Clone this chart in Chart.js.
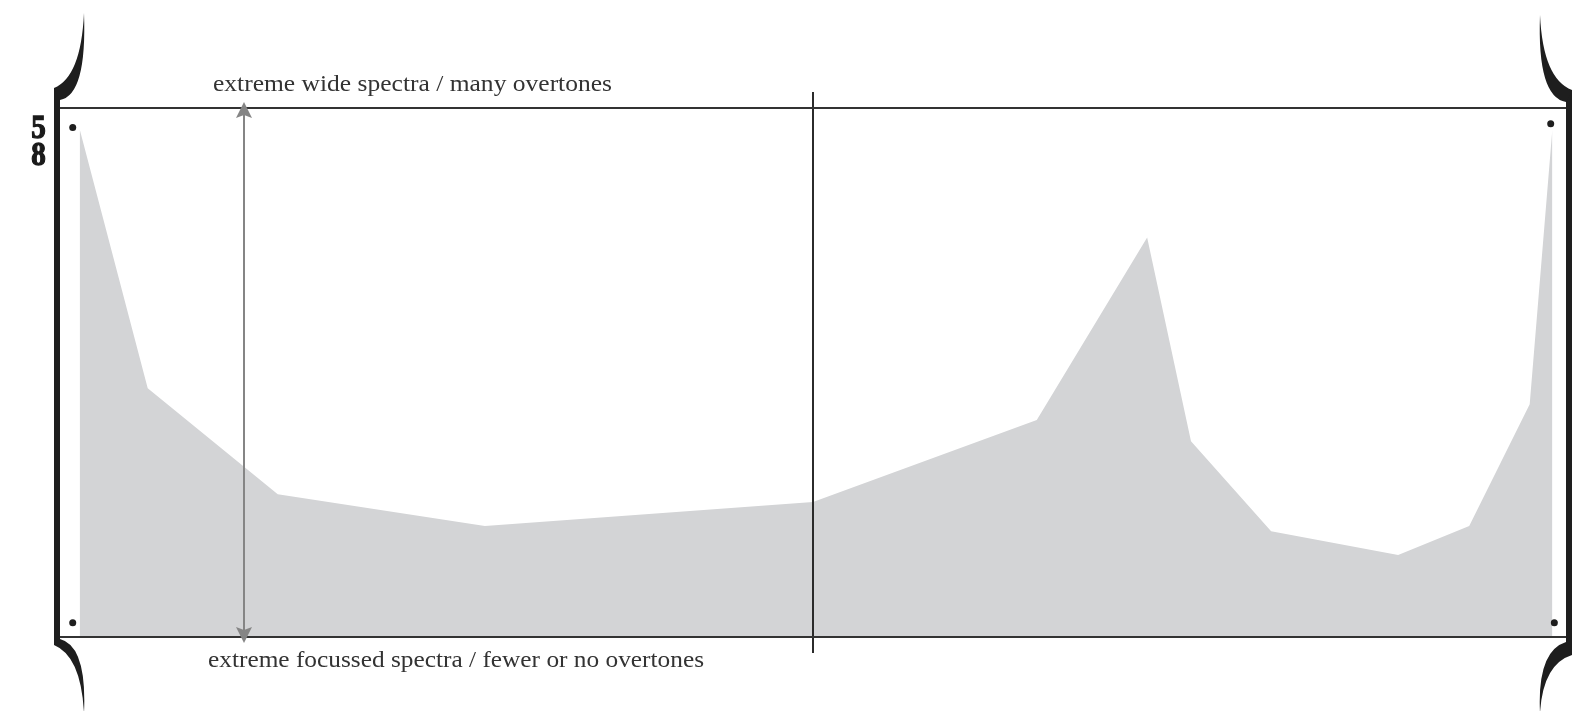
<!DOCTYPE html>
<html>
<head>
<meta charset="utf-8">
<script src="https://cdn.jsdelivr.net/npm/chart.js@4.4.1/dist/chart.umd.min.js"></script>
<style>
  html,body{margin:0;padding:0;background:#fff}
  #wrap{width:1591px;height:711px;position:relative}
</style>
</head>
<body>
<div id="wrap"><canvas id="c"></canvas></div>
<script>
  // spectrum width along the piece (x = position 0..100, y = width 0..100)
  const POS=[1.5,6,14.6,28.3,50,64.8,72.1,75,80.3,88.7,93.4,97.4,98.9];
  const LEVEL=[96,47,27,21,25.5,41,75.5,37,20,15.5,21,44,96];
  // small corner marks
  const DOT_X=[1.04,1.04,98.79,99.03];
  const DOT_Y=[96.3,2.7,97,2.7];
  const MID_X=50;      // section divider
  const ARROW_X=12.4;  // range arrow
  const TOP_LABEL="extreme wide spectra / many overtones";
  const BOTTOM_LABEL="extreme focussed spectra / fewer or no overtones";
  const METER=["5","8"];

  const INK="#2b2b2b";

  function fitText(ctx,txt,x,y,w,font){
    ctx.font=font;
    const m=ctx.measureText(txt).width;
    ctx.save();ctx.translate(x,y);ctx.scale(w/m,1);ctx.fillText(txt,0,0);ctx.restore();
  }

  // one curly horn of the bracket
  function horn(ctx,o,i,tip,cOut,cIn){
    ctx.beginPath();
    ctx.moveTo(o[0],o[1]);
    ctx.quadraticCurveTo(cOut[0],cOut[1],tip[0],tip[1]);
    ctx.quadraticCurveTo(cIn[0],cIn[1],i[0],i[1]);
    ctx.closePath();ctx.fill();
  }

  function arrowHead(ctx,x,tipY,dir){
    ctx.beginPath();
    ctx.moveTo(x,tipY);
    ctx.lineTo(x-8,tipY+dir*16);
    ctx.lineTo(x,tipY+dir*13);
    ctx.lineTo(x+8,tipY+dir*16);
    ctx.closePath();ctx.fill();
  }

  const decor={
    id:"decor",
    afterDatasetsDraw(chart){
      const ctx=chart.ctx,a=chart.chartArea,xs=chart.scales.x;
      const L=a.left,R=a.right,T=a.top,B=a.bottom;
      ctx.save();

      // divider
      const mx=Math.round(xs.getPixelForValue(MID_X));
      ctx.strokeStyle=INK;ctx.lineWidth=2;
      ctx.beginPath();ctx.moveTo(mx,T-16);ctx.lineTo(mx,B+16);ctx.stroke();

      // frame lines
      ctx.strokeStyle="#333";ctx.lineWidth=2.2;
      ctx.beginPath();ctx.moveTo(L,T);ctx.lineTo(R,T);ctx.moveTo(L,B);ctx.lineTo(R,B);ctx.stroke();

      // range arrow
      const ax=Math.round(xs.getPixelForValue(ARROW_X));
      ctx.strokeStyle="#858585";ctx.fillStyle="#858585";ctx.lineWidth=2;
      ctx.beginPath();ctx.moveTo(ax,T+4);ctx.lineTo(ax,B-4);ctx.stroke();
      arrowHead(ctx,ax,T-6,1);
      arrowHead(ctx,ax,B+6,-1);

      // brackets
      ctx.fillStyle="#1e1e1e";
      ctx.fillRect(L-3,T-20,6,B-T+28);
      horn(ctx,[L-3,T-20],[L+3,T-8],[L+27,T-95],[L+24,T-31],[L+30,T-13]);
      horn(ctx,[L-3,B+8],[L+3,B+2],[L+27,B+76],[L+24,B+19],[L+30,B+9]);
      ctx.fillRect(R-3,T-18,6,B-T+36);
      horn(ctx,[R+3,T-18],[R-3,T-6],[R-29,T-93],[R-26,T-29],[R-32,T-11]);
      horn(ctx,[R+3,B+18],[R-3,B+5],[R-29,B+76],[R-26,B+27],[R-32,B+14]);

      // labels
      ctx.fillStyle="#333";ctx.textBaseline="alphabetic";ctx.textAlign="left";
      fitText(ctx,TOP_LABEL,213,T-17.5,399,"23px 'Liberation Serif', serif");
      fitText(ctx,BOTTOM_LABEL,208,B+30,496,"23px 'Liberation Serif', serif");

      // time signature
      ctx.fillStyle="#1a1a1a";ctx.strokeStyle="#1a1a1a";ctx.lineWidth=1.3;ctx.textAlign="center";
      ctx.font="bold 33px 'Liberation Serif', serif";
      METER.forEach((d,k)=>{
        ctx.save();ctx.translate(L-18.5,T+30+k*27);ctx.scale(0.88,1);
        ctx.fillText(d,0,0);ctx.strokeText(d,0,0);ctx.restore();
      });
      ctx.restore();
    }
  };

  new Chart(document.getElementById("c"),{
    type:"line",
    data:{datasets:[
      {data:POS.map((x,k)=>({x:x,y:LEVEL[k]})),fill:"origin",backgroundColor:"#d3d4d6",
       borderWidth:0,pointRadius:0,tension:0,order:2},
      {data:DOT_X.map((x,k)=>({x:x,y:DOT_Y[k]})),showLine:false,pointRadius:3.5,
       pointBackgroundColor:"#1e1e1e",pointBorderWidth:0,order:1}
    ]},
    options:{
      responsive:true,maintainAspectRatio:false,animation:false,
      layout:{padding:{left:57,right:22,top:108,bottom:74}},
      plugins:{legend:{display:false},tooltip:{enabled:false}},
      scales:{
        x:{type:"linear",min:0,max:100,display:false},
        y:{min:0,max:100,display:false}
      }
    },
    plugins:[decor]
  });
</script>
</body>
</html>
